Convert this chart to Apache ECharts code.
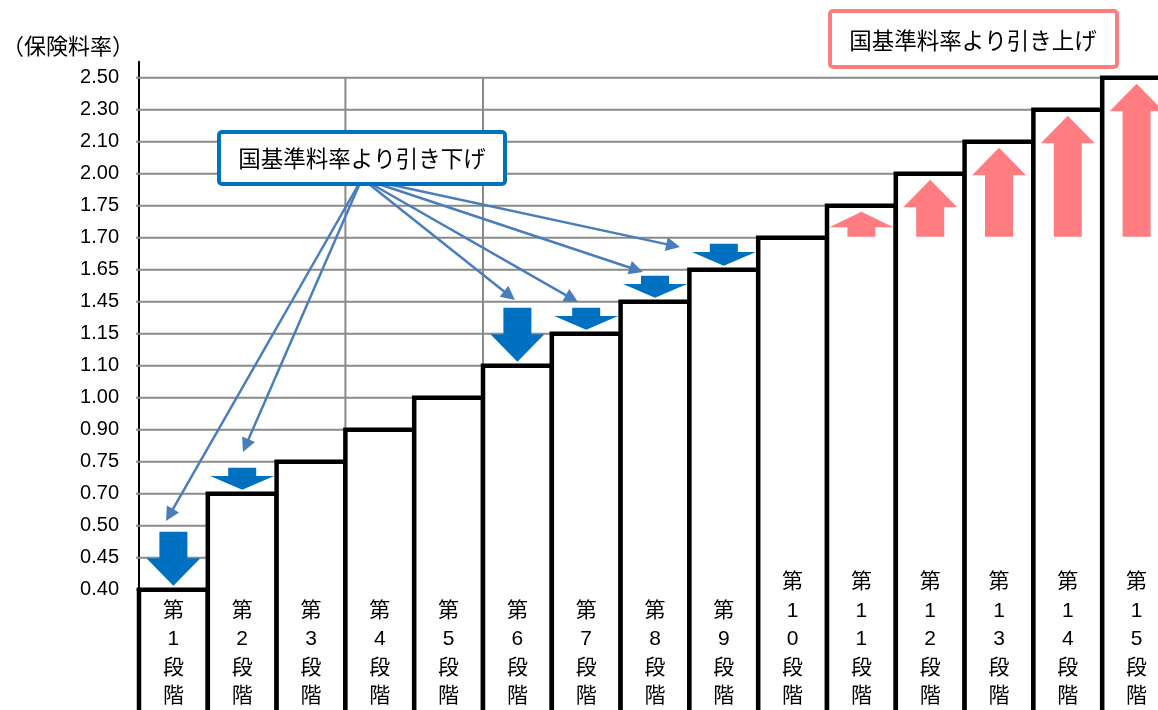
<!DOCTYPE html>
<html>
<head>
<meta charset="utf-8">
<script src="https://cdn.jsdelivr.net/npm/echarts@6/dist/echarts.min.js"></script>
<style>
html,body{margin:0;padding:0;background:#fff;}
#c{width:1158px;height:710px;}
</style>
</head>
<body>
<div id="c"></div>
<script>
// ---- data ----
const tickLabels = ['0.40','0.45','0.50','0.70','0.75','0.90','1.00','1.10','1.15','1.45','1.65','1.70','1.75','2.00','2.10','2.30','2.50'];
const stageNames = ['第1段階','第2段階','第3段階','第4段階','第5段階','第6段階','第7段階','第8段階','第9段階','第10段階','第11段階','第12段階','第13段階','第14段階','第15段階'];
const stageRates = [0.40,0.70,0.75,0.90,1.00,1.10,1.15,1.45,1.65,1.70,1.75,2.00,2.10,2.30,2.50];
// reduction arrows (stage number, rate the arrow starts from)
const downStages = [1,2,6,7,8,9];
const downFrom = [0.50,0.75,1.45,1.45,1.65,1.70];
// increase arrows (stage number, rate the arrow starts from)
const upStages = [11,12,13,14,15];
const upFrom = [1.70,1.70,1.70,1.70,1.70];
const downLabel = '国基準料率より引き下げ';
const upLabel = '国基準料率より引き上げ';
const yAxisTitle = '（保険料率）';
// callout anchor points in axis space (x: stage slot, y: tick position)
const calloutOrigin = [3.241, 12.85];
const calloutTargets = [[0.443,2.334],[1.552,4.503],[5.385,9.188],[6.292,9.097],[7.228,9.997],[7.763,10.753]];

// ---- helpers ----
const pos = r => tickLabels.indexOf(r.toFixed(2));
const CJK = "'Liberation Sans','Noto Sans CJK JP',sans-serif";
const Y_BOTTOM = -4;

const chart = echarts.init(document.getElementById('c'), null, {renderer:'canvas'});

function arrowShape(cx, y1, y2) {
  const dir = y2 > y1 ? 1 : -1;
  const h = Math.abs(y2 - y1);
  const headL = Math.min(27.5, 0.62 * h);
  const headW = h >= 40 ? 54 : (h >= 20 ? 64 : 72);
  const sw = 14;
  const yb = y2 - dir * headL;
  return [[cx - sw, y1],[cx + sw, y1],[cx + sw, yb],[cx + headW/2, yb],[cx, y2],[cx - headW/2, yb],[cx - sw, yb]];
}

const option = {
  animation:false,
  backgroundColor:'#fff',
  grid:{left:139, top:61.7, width:1032, height:656, outerBoundsMode:'none', containLabel:false},
  xAxis:{type:'value', min:0, max:15, show:false},
  yAxis:{
    type:'value', min:-4, max:16.5, interval:1, offset:5,
    axisLine:{show:true, lineStyle:{color:'#000', width:2}},
    axisTick:{show:false},
    splitLine:{show:false},
    axisLabel:{
      color:'#000', fontSize:20, fontFamily:'Liberation Sans', margin:15,
      formatter: v => {
        const r = Math.round(v);
        if (Math.abs(v - r) > 1e-6 || r < 0 || r >= tickLabels.length) return '';
        return tickLabels[r];
      }
    }
  },
  graphic:[
    {type:'text', left:2, top:35, z:10, style:{text:yAxisTitle, font:"22px 'Noto Sans CJK JP'", fill:'#000'}},
    {type:'rect', z:10, shape:{x:219, y:132, width:286, height:52, r:3}, style:{fill:'#fff', stroke:'#0070C0', lineWidth:4}},
    {type:'text', z:11, x:362, y:158, style:{text:downLabel, font:"22.5px 'Noto Sans CJK JP'", fill:'#000', align:'center', verticalAlign:'middle'}},
    {type:'rect', z:10, shape:{x:830, y:11, width:287, height:56, r:3}, style:{fill:'#fff', stroke:'#FF7C80', lineWidth:4}},
    {type:'text', z:11, x:973, y:40, style:{text:upLabel, font:"22.5px 'Noto Sans CJK JP'", fill:'#000', align:'center', verticalAlign:'middle'}}
  ],
  series:[
    { // horizontal grid lines
      type:'custom', z:1, silent:true,
      data: tickLabels.map((l,i)=>[i]),
      renderItem:(params, api) => {
        const a = api.coord([0, api.value(0)]);
        const b = api.coord([15, api.value(0)]);
        return {type:'line', shape:{x1:a[0]-3, y1:a[1], x2:b[0], y2:b[1]}, style:{stroke:'#8a8a8a', lineWidth:2}};
      }
    },
    { // vertical grid lines
      type:'custom', z:1, silent:true,
      data:[[3],[5]],
      renderItem:(params, api) => {
        const a = api.coord([api.value(0), tickLabels.length-1]);
        const b = api.coord([api.value(0), Y_BOTTOM]);
        return {type:'line', shape:{x1:a[0], y1:a[1], x2:b[0], y2:b[1]}, style:{stroke:'#8a8a8a', lineWidth:2}};
      }
    },
    { // stage steps
      type:'custom', z:2, silent:true,
      data: stageRates.map((r,i)=>[i, pos(r)]),
      renderItem:(params, api) => {
        const i = params.dataIndex;
        const tl = api.coord([api.value(0), api.value(1)]);
        const br = api.coord([api.value(0)+1, Y_BOTTOM]);
        const ty = api.coord([0, -3.78])[1];
        return {type:'group', children:[
          {type:'rect', shape:{x:tl[0], y:tl[1], width:br[0]-tl[0], height:br[1]-tl[1]}, style:{fill:'#fff', stroke:'#000', lineWidth:4.5}},
          {type:'text', style:{text:stageNames[i].split('').join('\n'), x:(tl[0]+br[0])/2, y:ty, align:'center', verticalAlign:'bottom', font:"21px "+CJK, lineHeight:28.5, fill:'#000'}}
        ]};
      }
    },
    { // reduction arrows
      type:'custom', z:3, silent:true,
      data: downStages.map((s,k)=>[s-1, pos(downFrom[k]), pos(stageRates[s-1])]),
      renderItem:(params, api) => {
        const cx = api.coord([api.value(0)+0.5, 0])[0];
        const y1 = api.coord([0, api.value(1)])[1] + 6;
        const y2 = api.coord([0, api.value(2)])[1] - 4;
        return {type:'polygon', shape:{points:arrowShape(cx, y1, y2)}, style:{fill:'#0070C0'}};
      }
    },
    { // increase arrows
      type:'custom', z:3, silent:true,
      data: upStages.map((s,k)=>[s-1, pos(upFrom[k]), pos(stageRates[s-1])]),
      renderItem:(params, api) => {
        const cx = api.coord([api.value(0)+0.5, 0])[0];
        const y1 = api.coord([0, api.value(1)])[1] - 1;
        const y2 = api.coord([0, api.value(2)])[1] + 6;
        return {type:'polygon', shape:{points:arrowShape(cx, y1, y2)}, style:{fill:'#FF7C80'}};
      }
    },
    { // callout lines
      type:'lines', coordinateSystem:'cartesian2d', z:4, silent:true,
      symbol:['none','triangle'], symbolSize:14,
      lineStyle:{color:'#4A7EBB', width:2.5, opacity:1},
      data: calloutTargets.map(t => ({coords:[calloutOrigin, t]}))
    }
  ]
};
chart.setOption(option);
</script>
</body>
</html>
